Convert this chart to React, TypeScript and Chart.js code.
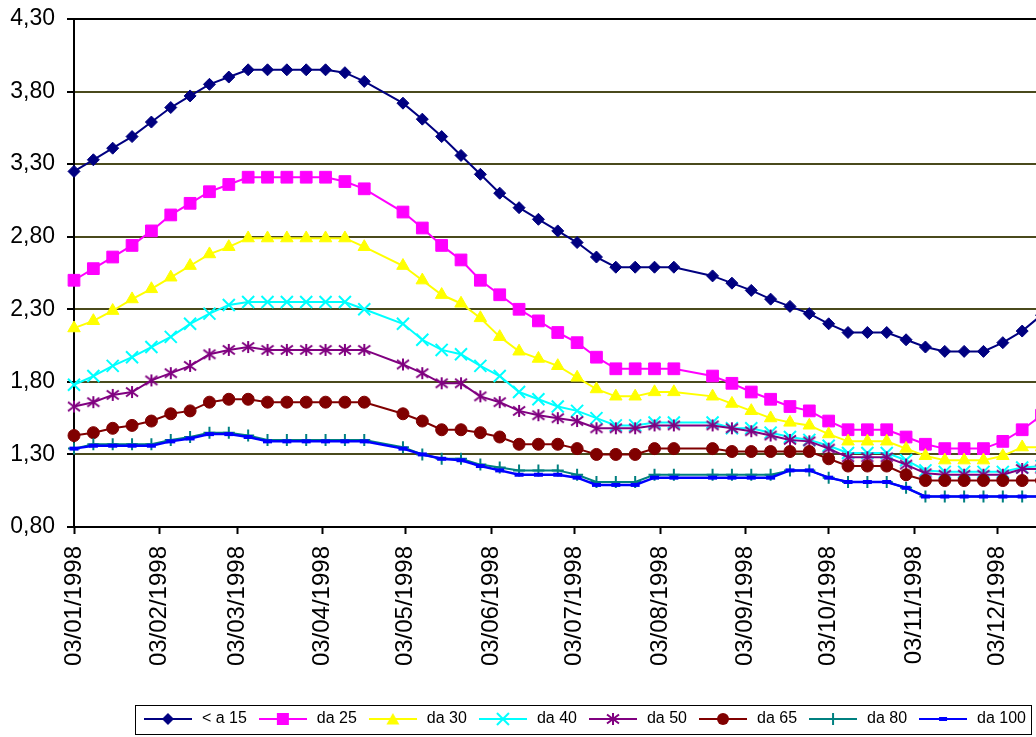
import React, { useEffect, useRef } from 'react';
import { Chart, registerables } from 'chart.js';

Chart.register(...registerables);

// ---- data ----
const dates = [
  '03/01/1998', '10/01/1998', '17/01/1998', '24/01/1998', '31/01/1998', '07/02/1998', '14/02/1998', '21/02/1998',
  '28/02/1998', '07/03/1998', '14/03/1998', '21/03/1998', '28/03/1998', '04/04/1998', '11/04/1998', '18/04/1998',
  '02/05/1998', '09/05/1998', '16/05/1998', '23/05/1998', '30/05/1998', '06/06/1998', '13/06/1998', '20/06/1998',
  '27/06/1998', '04/07/1998', '11/07/1998', '18/07/1998', '25/07/1998', '01/08/1998', '08/08/1998',
  '22/08/1998', '29/08/1998', '05/09/1998', '12/09/1998', '19/09/1998', '26/09/1998', '03/10/1998', '10/10/1998',
  '17/10/1998', '24/10/1998', '31/10/1998', '07/11/1998', '14/11/1998', '21/11/1998', '28/11/1998', '05/12/1998',
  '12/12/1998', '19/12/1998',
];

const tickDates = [
  '03/01/1998', '03/02/1998', '03/03/1998', '03/04/1998', '03/05/1998', '03/06/1998',
  '03/07/1998', '03/08/1998', '03/09/1998', '03/10/1998', '03/11/1998', '03/12/1998',
];
const axisStartDate = '03/01/1998';
const axisEndDate = '17/12/1998';

const yTicks = [0.8, 1.3, 1.8, 2.3, 2.8, 3.3, 3.8, 4.3];

const seriesNames = ['< a 15', 'da 25', 'da 30', 'da 40', 'da 50', 'da 65', 'da 80', 'da 100'];

const lt15 = [3.25, 3.33, 3.41, 3.49, 3.59, 3.69, 3.77, 3.85, 3.90, 3.95, 3.95, 3.95, 3.95, 3.95, 3.93, 3.87,
  3.72, 3.61, 3.49, 3.36, 3.23, 3.10, 3.00, 2.92, 2.84, 2.76, 2.66, 2.59, 2.59, 2.59, 2.59,
  2.53, 2.48, 2.43, 2.37, 2.32, 2.27, 2.20, 2.14, 2.14, 2.14, 2.09, 2.04, 2.01, 2.01, 2.01, 2.07, 2.15, 2.26];
const da25 = [2.50, 2.58, 2.66, 2.74, 2.84, 2.95, 3.03, 3.11, 3.16, 3.21, 3.21, 3.21, 3.21, 3.21, 3.18, 3.13,
  2.97, 2.86, 2.74, 2.64, 2.50, 2.40, 2.30, 2.22, 2.14, 2.07, 1.97, 1.89, 1.89, 1.89, 1.89,
  1.84, 1.79, 1.73, 1.68, 1.63, 1.60, 1.53, 1.47, 1.47, 1.47, 1.42, 1.37, 1.34, 1.34, 1.34, 1.39, 1.47, 1.57];
const da30 = [2.17, 2.22, 2.29, 2.37, 2.44, 2.52, 2.60, 2.68, 2.73, 2.79, 2.79, 2.79, 2.79, 2.79, 2.79, 2.73,
  2.60, 2.50, 2.40, 2.34, 2.24, 2.11, 2.01, 1.96, 1.91, 1.83, 1.75, 1.70, 1.70, 1.73, 1.73,
  1.70, 1.65, 1.60, 1.55, 1.52, 1.50, 1.44, 1.39, 1.39, 1.39, 1.34, 1.29, 1.26, 1.26, 1.26, 1.29, 1.35, 1.35];
const da40 = [1.78, 1.84, 1.91, 1.97, 2.04, 2.11, 2.20, 2.27, 2.33, 2.35, 2.35, 2.35, 2.35, 2.35, 2.35, 2.30,
  2.20, 2.09, 2.02, 1.99, 1.91, 1.84, 1.73, 1.68, 1.63, 1.60, 1.55, 1.50, 1.50, 1.52, 1.52,
  1.52, 1.48, 1.48, 1.45, 1.42, 1.40, 1.36, 1.31, 1.31, 1.31, 1.26, 1.19, 1.18, 1.18, 1.18, 1.18, 1.21, 1.22];
const da50 = [1.63, 1.66, 1.71, 1.73, 1.81, 1.86, 1.91, 1.99, 2.02, 2.04, 2.02, 2.02, 2.02, 2.02, 2.02, 2.02,
  1.92, 1.86, 1.79, 1.79, 1.70, 1.66, 1.60, 1.57, 1.55, 1.53, 1.48, 1.48, 1.48, 1.50, 1.50,
  1.50, 1.48, 1.46, 1.43, 1.40, 1.39, 1.34, 1.28, 1.28, 1.28, 1.23, 1.17, 1.16, 1.16, 1.16, 1.16, 1.20, 1.20];
const da65 = [1.43, 1.45, 1.48, 1.50, 1.53, 1.58, 1.60, 1.66, 1.68, 1.68, 1.66, 1.66, 1.66, 1.66, 1.66, 1.66,
  1.58, 1.53, 1.47, 1.47, 1.45, 1.42, 1.37, 1.37, 1.37, 1.34, 1.30, 1.30, 1.30, 1.34, 1.34,
  1.34, 1.32, 1.32, 1.32, 1.32, 1.32, 1.27, 1.22, 1.22, 1.22, 1.16, 1.12, 1.12, 1.12, 1.12, 1.12, 1.12, 1.12];
const da80 = [1.34, 1.37, 1.37, 1.37, 1.37, 1.40, 1.42, 1.45, 1.45, 1.43, 1.40, 1.40, 1.40, 1.40, 1.40, 1.40,
  1.35, 1.30, 1.27, 1.27, 1.23, 1.21, 1.19, 1.19, 1.19, 1.16, 1.11, 1.11, 1.11, 1.16, 1.16,
  1.16, 1.16, 1.16, 1.16, 1.19, 1.19, 1.14, 1.11, 1.11, 1.11, 1.07, 1.01, 1.01, 1.01, 1.01, 1.01, 1.01, 1.01];
const da100 = [1.34, 1.36, 1.36, 1.36, 1.36, 1.39, 1.41, 1.44, 1.44, 1.42, 1.39, 1.39, 1.39, 1.39, 1.39, 1.39,
  1.34, 1.30, 1.27, 1.26, 1.22, 1.19, 1.16, 1.16, 1.16, 1.14, 1.09, 1.09, 1.09, 1.14, 1.14,
  1.14, 1.14, 1.14, 1.14, 1.19, 1.19, 1.14, 1.11, 1.11, 1.11, 1.07, 1.01, 1.01, 1.01, 1.01, 1.01, 1.01, 1.01];

const seriesValues = [lt15, da25, da30, da40, da50, da65, da80, da100];

// ---- styles ----
const seriesColors = ['#000080', '#FF00FF', '#FFFF00', '#00FFFF', '#800080', '#800000', '#008080', '#0000FF'];
const seriesMarkers = ['diamond', 'square', 'triangle', 'x', 'star', 'circle', 'plus', 'dash'];
const FONT = "'Liberation Sans', Arial, Helvetica, sans-serif";
const W = 1036;
const H = 737;
const PLOT_TOP = 19;
const PLOT_BOTTOM = 527;
const LEGEND_H = 36;

function parseDay(s: string): number {
  const [d, m, y] = s.split('/').map(Number);
  const [d0, m0, y0] = axisStartDate.split('/').map(Number);
  return Math.round((Date.UTC(y, m - 1, d) - Date.UTC(y0, m0 - 1, d0)) / 86400000);
}

function drawMarker(g: CanvasRenderingContext2D, kind: string, x: number, y: number, color: string) {
  g.fillStyle = color;
  g.strokeStyle = color;
  g.lineWidth = 2;
  g.beginPath();
  switch (kind) {
    case 'diamond':
      g.moveTo(x, y - 6); g.lineTo(x + 6, y); g.lineTo(x, y + 6); g.lineTo(x - 6, y); g.closePath(); g.fill();
      break;
    case 'square':
      g.fillRect(x - 6, y - 6, 12, 12);
      break;
    case 'triangle':
      g.moveTo(x, y - 6); g.lineTo(x + 6.5, y + 5.5); g.lineTo(x - 6.5, y + 5.5); g.closePath(); g.fill();
      break;
    case 'x':
      g.moveTo(x - 6, y - 6); g.lineTo(x + 6, y + 6); g.moveTo(x + 6, y - 6); g.lineTo(x - 6, y + 6); g.stroke();
      break;
    case 'star':
      g.moveTo(x, y - 6); g.lineTo(x, y + 6);
      g.moveTo(x - 6, y - 4.5); g.lineTo(x + 6, y + 4.5);
      g.moveTo(x + 6, y - 4.5); g.lineTo(x - 6, y + 4.5);
      g.stroke();
      break;
    case 'circle':
      g.arc(x, y, 6, 0, Math.PI * 2); g.fill();
      break;
    case 'plus':
      g.moveTo(x - 6, y); g.lineTo(x + 6, y); g.moveTo(x, y - 6); g.lineTo(x, y + 6); g.stroke();
      break;
    case 'dash':
      g.lineWidth = 4;
      g.moveTo(x - 4, y); g.lineTo(x + 4, y); g.stroke();
      break;
  }
}

function starCanvas(color: string): HTMLCanvasElement {
  const c = document.createElement('canvas');
  c.width = 16; c.height = 16;
  const g = c.getContext('2d')!;
  drawMarker(g, 'star', 8, 8, color);
  return c;
}

function legendCanvas(kind: string, color: string): HTMLCanvasElement {
  const c = document.createElement('canvas');
  c.width = 48; c.height = 16;
  const g = c.getContext('2d')!;
  g.strokeStyle = color;
  g.lineWidth = 2;
  g.beginPath(); g.moveTo(0, 8); g.lineTo(48, 8); g.stroke();
  drawMarker(g, kind, 24, 8, color);
  return c;
}

function pointStyleFor(kind: string, color: string): any {
  switch (kind) {
    case 'diamond': return { style: 'rectRot', radius: 6 };
    case 'square': return { style: 'rect', radius: 8.3 };
    case 'triangle': return { style: 'triangle', radius: 7.2 };
    case 'x': return { style: 'crossRot', radius: 8.5 };
    case 'star': return { style: starCanvas(color), radius: 7 };
    case 'circle': return { style: 'circle', radius: 6 };
    case 'plus': return { style: 'cross', radius: 6 };
    default: return { style: 'line', radius: 4.5 };
  }
}

const legendBoxPlugin = {
  id: 'legendBox',
  afterDraw(chart: any) {
    const lg = chart.legend;
    if (!lg || !lg.legendHitBoxes || !lg.legendHitBoxes.length) return;
    const hb = lg.legendHitBoxes;
    const first = hb[0];
    const last = hb[hb.length - 1];
    const left = Math.round(first.left - 7) + 0.5;
    const right = Math.round(last.left + last.width + 5) + 0.5;
    const top = Math.round(first.top - 6) + 0.5;
    const bottom = Math.round(first.top + first.height + 7) + 0.5;
    const ctx = chart.ctx;
    ctx.save();
    ctx.strokeStyle = '#000';
    ctx.lineWidth = 1;
    ctx.strokeRect(left, top, right - left, bottom - top);
    ctx.restore();
  },
};

export default function App() {
  const ref = useRef<HTMLCanvasElement | null>(null);

  useEffect(() => {
    if (!ref.current) return;
    const xs = dates.map(parseDay);
    const tickDays = tickDates.map(parseDay);
    const legendImgs = seriesMarkers.map((m, i) => legendCanvas(m, seriesColors[i]));

    const datasets = seriesNames.map((name, i) => {
      const ps = pointStyleFor(seriesMarkers[i], seriesColors[i]);
      return {
        label: name,
        data: seriesValues[i].map((v, j) => ({ x: xs[j], y: v })),
        borderColor: seriesColors[i],
        backgroundColor: seriesColors[i],
        borderWidth: i === 7 ? 2.5 : 2,
        pointStyle: ps.style,
        pointRadius: ps.radius,
        pointHoverRadius: ps.radius,
        pointBorderWidth: seriesMarkers[i] === 'dash' ? 4 : (['x', 'plus'].includes(seriesMarkers[i]) ? 2 : 1),
        pointBackgroundColor: seriesColors[i],
        pointBorderColor: seriesColors[i],
        tension: 0,
        clip: false as any,
        order: seriesNames.length - i,
      };
    });

    const chart = new Chart(ref.current, {
      type: 'line',
      data: { datasets },
      plugins: [legendBoxPlugin],
      options: {
        animation: false,
        responsive: true,
        maintainAspectRatio: false,
        layout: { autoPadding: false, padding: { top: PLOT_TOP, left: 0, right: 0, bottom: 0 } },
        plugins: {
          tooltip: { enabled: false },
          legend: {
            position: 'bottom',
            align: 'end',
            labels: {
              usePointStyle: true,
              pointStyleWidth: 52,
              padding: 10,
              color: '#000',
              font: { family: FONT, size: 16 },
              generateLabels: () =>
                seriesNames.map((name, i) => ({
                  text: name,
                  pointStyle: legendImgs[i] as any,
                  fillStyle: seriesColors[i],
                  strokeStyle: seriesColors[i],
                  lineWidth: 0,
                  hidden: false,
                  datasetIndex: i,
                  fontColor: '#000',
                })),
            },
          },
        },
        scales: {
          x: {
            type: 'linear',
            min: parseDay(axisStartDate),
            max: parseDay(axisEndDate),
            afterBuildTicks: (scale: any) => {
              scale.ticks = tickDays.map((v) => ({ value: v }));
            },
            afterFit: (scale: any) => {
              scale.height = H - PLOT_BOTTOM - LEGEND_H;
              scale.paddingLeft = 0;
              scale.paddingRight = 0;
              scale.paddingTop = 0;
              scale.paddingBottom = 0;
            },
            ticks: {
              autoSkip: false,
              maxRotation: 90,
              minRotation: 90,
              padding: 12,
              color: '#000',
              font: { family: FONT, size: 24 },
              callback: (value: any) => {
                const idx = tickDays.indexOf(Number(value));
                return idx >= 0 ? tickDates[idx] : '';
              },
            },
            grid: {
              drawOnChartArea: false,
              drawTicks: true,
              tickLength: 7,
              tickColor: '#000',
              tickWidth: 2,
            },
            border: { display: true, color: '#000', width: 2 },
          },
          y: {
            type: 'linear',
            min: yTicks[0],
            max: yTicks[yTicks.length - 1],
            afterBuildTicks: (scale: any) => {
              scale.ticks = yTicks.map((v) => ({ value: v }));
            },
            afterFit: (scale: any) => {
              scale.width = 74;
              scale.paddingTop = 0;
              scale.paddingBottom = 0;
              scale.paddingLeft = 0;
              scale.paddingRight = 0;
            },
            ticks: {
              padding: 12,
              color: '#000',
              font: { family: FONT, size: 23 },
              callback: (value: any) => Number(value).toFixed(2).replace('.', ','),
            },
            grid: {
              drawTicks: true,
              tickLength: 7,
              tickColor: '#000',
              tickWidth: 2,
              lineWidth: 2,
              color: (ctx: any) => {
                const v = ctx.tick ? ctx.tick.value : 0;
                return Math.abs(v - 4.3) < 1e-6 || Math.abs(v - 0.8) < 1e-6 ? '#000' : '#4a4a1c';
              },
            },
            border: { display: true, color: '#000', width: 2 },
          },
        },
      },
    });
    return () => chart.destroy();
  }, []);

  return (
    <div style={{ position: 'absolute', left: 0, top: 0, width: W, height: H, background: '#fff' }}>
      <canvas ref={ref} />
    </div>
  );
}
